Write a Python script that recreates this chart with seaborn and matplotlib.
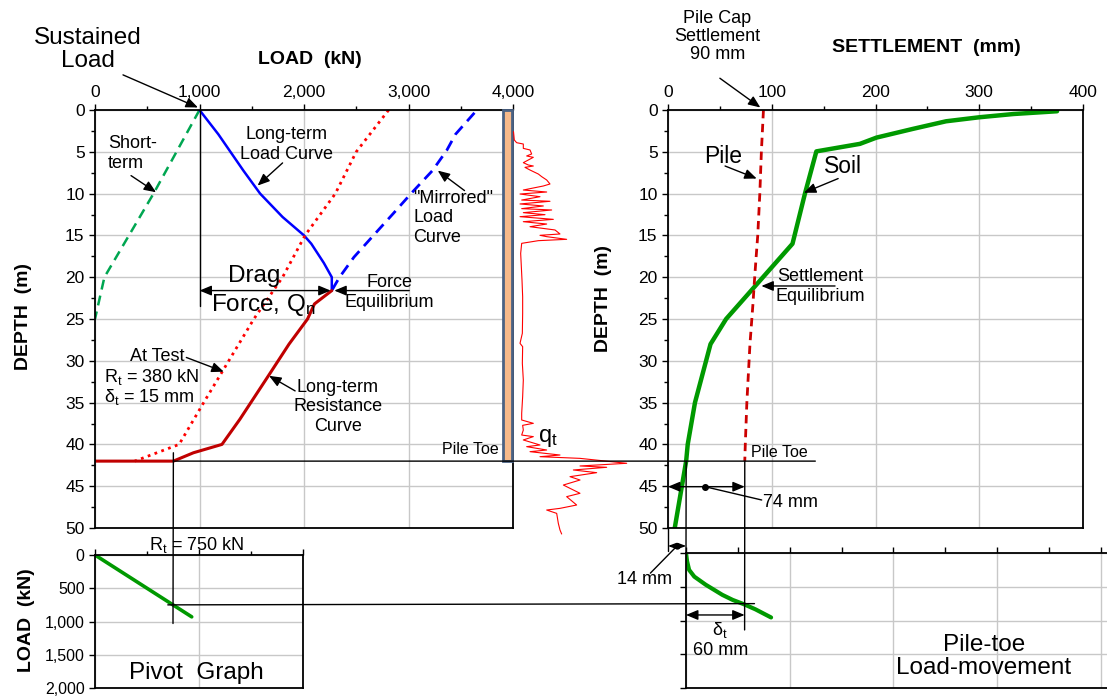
import matplotlib
matplotlib.use("Agg")
import matplotlib.pyplot as plt
from matplotlib.patches import Rectangle, ConnectionPatch
from matplotlib.ticker import MultipleLocator, FuncFormatter, NullFormatter
import seaborn as sns

sns.set_theme(style="white")
plt.rcParams['font.family'] = ['Liberation Sans', 'DejaVu Sans']
plt.rcParams['mathtext.fontset'] = 'custom'
plt.rcParams['mathtext.rm'] = 'Liberation Sans'
plt.rcParams['mathtext.it'] = 'Liberation Sans:italic'
for k in ['text.color', 'axes.labelcolor', 'xtick.color', 'ytick.color']:
    plt.rcParams[k] = 'black'

# ---- data ----
sustained_load = 1000
toe_depth = 42
rt_long = 750

short_load = [1000, 560, 90, 0]
short_depth = [0, 10, 20, 25]

lt_load = [1000, 1180, 1420, 1580, 1795, 2000, 2070, 2190, 2266, 2266]
lt_depth = [0, 2.9, 7.25, 10, 12.8, 15, 16, 18.3, 20, 21.6]

mir_load = [2270, 2340, 2478, 2665, 2853, 3024, 3229, 3365, 3450, 3655]
mir_depth = [21.5, 20, 17.6, 15, 12.4, 10, 7.25, 4.85, 2.9, 0]

test_load = [2810, 2500, 2300, 2010, 1795, 1520, 1280, 1040, 805, 380]
test_depth = [0, 5, 10, 15, 20, 25, 30, 35, 40, 42]

res_load = [2266, 2100, 2034, 1857, 1659, 1386, 1215, 942, 750, 0]
res_depth = [21.6, 23.2, 25, 28, 31.8, 37, 40, 41, 42, 42]

qt_mpa = [0.1, 0.26, 0.72, 2.03, 2.03, 3.35, 3.67, 2.69, 4.0, 2.03, 3.02, 4.0, 2.36,
          3.35, 4.99, 5.64, 6.63, 7.28, 5.97, 2.03, 6.63, 1.38, 5.31, 1.71, 7.28, 1.38,
          5.97, 1.71, 7.61, 2.03, 6.30, 1.38, 7.94, 2.03, 6.63, 3.35, 8.27, 9.25, 5.31,
          6.63, 10.56, 4.99, 1.71, 1.51, 1.64, 1.77, 1.90, 1.90, 1.84, 1.38, 1.90, 1.84,
          2.03, 1.90, 1.71, 1.71, 4.0, 1.90, 2.03, 1.71, 4.0, 2.03, 5.31, 2.69, 6.63,
          3.35, 9.25, 5.31, 13.19, 22.38, 13.19, 18.44, 11.88, 16.47, 11.22, 13.19,
          9.91, 13.19, 10.56, 12.53, 9.25, 6.63, 8.6, 8.92, 9.25, 9.58]
qt_depth = [2.59, 3.59, 3.91, 4.07, 4.59, 4.78, 5.26, 5.50, 5.66, 6.30, 6.58, 6.70, 6.86,
            7.18, 7.66, 7.97, 8.37, 8.85, 9.09, 9.57, 9.81, 10.05, 10.37, 10.77, 10.92, 11.24,
            11.48, 11.80, 11.96, 12.28, 12.52, 12.76, 13.08, 13.36, 13.64, 13.96, 14.35, 14.83, 14.99,
            15.15, 15.47, 15.63, 15.95, 17.15, 18.74, 20.33, 22.33, 24.32, 26.71, 27.91, 28.31, 30.30,
            32.30, 34.29, 36.28, 37.08, 37.48, 37.72, 38.28, 38.88, 39.07, 39.47, 40.07, 40.27, 40.67,
            40.87, 41.27, 41.47, 41.67, 42.26, 42.58, 42.74, 43.06, 43.38, 43.86, 44.26,
            44.86, 45.85, 46.25, 47.25, 47.65, 47.85, 48.25, 49.44, 50.24, 50.72]

pile_set = [92, 90, 88.5, 86.5, 85, 83, 82, 79, 76, 74.5, 74]
pile_depth = [0, 5, 10, 15, 17.5, 21, 23, 28, 35, 40, 42]

soil_set = [375, 333, 300, 268, 236, 201, 185, 143, 132, 120, 88, 56, 41, 26, 19, 17.5, 6.5]
soil_depth = [0.15, 0.48, 0.87, 1.35, 2.26, 3.3, 4.05, 4.95, 10, 16, 20.5, 25, 28, 35, 40, 42, 50]

pile_toe_set = 74
soil_toe_set = 17.5

pivot_load = [0, 250, 500, 750, 930]

toe_move = [0, 1, 3, 8, 19, 35, 45, 56, 67, 82]
toe_load = [0, 120, 250, 350, 470, 620, 695, 760, 835, 955]

# ---- layout ----
W, H = 1107, 698
fig = plt.figure(figsize=(W / 100, H / 100), dpi=100)


def box(l, t, r, b):
    return [l / W, 1 - b / H, (r - l) / W, (b - t) / H]


ax_l = fig.add_axes(box(95, 110, 513, 528))
ax_q = fig.add_axes(box(513, 110, 640, 528))
ax_r = fig.add_axes(box(668, 110, 1083, 528))
ax_p = fig.add_axes(box(95, 555, 303, 688))
ax_t = fig.add_axes(box(686, 553, 1107, 688))

thousands = FuncFormatter(lambda v, p: f"{v:,.0f}")


def frame(ax, size=12.5):
    for s in ax.spines.values():
        s.set_visible(True)
        s.set_color('black')
        s.set_linewidth(1.3)
    ax.grid(True, which='major', color='#C8C8C8', lw=1)
    ax.set_axisbelow(True)
    ax.xaxis.tick_top()
    ax.tick_params(which='both', direction='out', length=4, width=1, labelsize=size,
                   top=True, bottom=False, left=True, right=False, labeltop=True, labelbottom=False)
    ax.tick_params(which='minor', length=3)


def curve(ax, x, y, **kw):
    sns.lineplot(x=x, y=y, sort=False, estimator=None, ax=ax, **kw)


arrow = dict(arrowstyle='-|>,head_length=0.6,head_width=0.25', color='black', lw=1, shrinkA=0, shrinkB=0)
arrow2 = dict(arrowstyle='<|-|>,head_length=0.6,head_width=0.25', color='black', lw=1, shrinkA=0, shrinkB=0)

# ---- LOAD vs DEPTH ----
frame(ax_l)
ax_l.set_xlim(0, 4000)
ax_l.set_ylim(50, 0)
ax_l.xaxis.set_major_locator(MultipleLocator(1000))
ax_l.xaxis.set_minor_locator(MultipleLocator(500))
ax_l.yaxis.set_major_locator(MultipleLocator(5))
ax_l.yaxis.set_minor_locator(MultipleLocator(2.5))
ax_l.xaxis.set_major_formatter(thousands)
ax_l.set_ylabel("DEPTH  (m)", fontsize=14, fontweight='bold')
ax_l.yaxis.set_label_coords(-0.15, 0.505)

curve(ax_l, short_load, short_depth, color='#00A651', lw=1.8, linestyle=(0, (4, 2.5)))
curve(ax_l, lt_load, lt_depth, color='#0000FF', lw=1.8)
curve(ax_l, mir_load, mir_depth, color='#0000FF', lw=2, linestyle=(0, (4, 2.5)))
curve(ax_l, test_load, test_depth, color='#FF0000', lw=2, linestyle=(0, (1, 1.6)))
curve(ax_l, res_load, res_depth, color='#C00000', lw=2.2)
ax_l.plot([sustained_load, sustained_load], [0, 23.4], color='black', lw=1)
ax_l.add_patch(Rectangle((3900, 0), 90, toe_depth, fc='#F6B98A', ec='#4A6284', lw=2,
                         clip_on=False, zorder=4))

ax_l.text(-67, -7.2, "Sustained\nLoad", fontsize=17.5, ha='center', va='center', linespacing=1.05)
ax_l.annotate('', xy=(985, -0.3), xytext=(268, -4.2), arrowprops=arrow, annotation_clip=False)
ax_l.text(2057, -6.1, "LOAD  (kN)", fontsize=14, fontweight='bold', ha='center', va='center')
ax_l.text(123, 5.2, "Short-\nterm", fontsize=13, ha='left', va='center')
ax_l.annotate('', xy=(584, 9.84), xytext=(345, 7.85), arrowprops=arrow)
ax_l.text(1829, 4.1, "Long-term\nLoad Curve", fontsize=13, ha='center', va='center')
ax_l.annotate('', xy=(1556, 9.04), xytext=(1795, 6.33), arrowprops=arrow)
ax_l.text(3048, 12.9, "\"Mirrored\"\nLoad\nCurve", fontsize=13, ha='left', va='center')
ax_l.annotate('', xy=(3280, 7.25), xytext=(3536, 9.64), arrowprops=arrow)
ax_l.text(1522, 19.9, "Drag", fontsize=17.5, ha='center', va='center')
ax_l.text(1608, 23.3, "Force, Q$_\\mathregular{n}$", fontsize=17.5, ha='center', va='center')
ax_l.annotate('', xy=(sustained_load, 21.6), xytext=(2255, 21.6), arrowprops=arrow2)
ax_l.text(2815, 21.8, "Force\nEquilibrium", fontsize=13, ha='center', va='center')
ax_l.annotate('', xy=(2290, 21.6), xytext=(3007, 21.6), arrowprops=arrow)
ax_l.text(600, 29.5, "At Test", fontsize=13, ha='center', va='center')
ax_l.annotate('', xy=(1232, 31.3), xytext=(874, 29.6), arrowprops=arrow)
ax_l.text(89, 31.9, "R$_\\mathregular{t}$ = 380 kN", fontsize=13, ha='left', va='center')
ax_l.text(89, 34.3, "δ$_\\mathregular{t}$ = 15 mm", fontsize=13, ha='left', va='center')
ax_l.text(2324, 35.5, "Long-term\nResistance\nCurve", fontsize=13, ha='center', va='center')
ax_l.annotate('', xy=(1666, 31.8), xytext=(1915, 33.6), arrowprops=arrow)
ax_l.text(3860, 40.6, "Pile Toe", fontsize=11.5, ha='right', va='center')

# ---- cone resistance trace ----
ax_q.set_xlim(0, 25)
ax_q.set_ylim(50, 0)
ax_q.axis('off')
ax_q.plot(qt_mpa, qt_depth, color='#FF0000', lw=0.8, clip_on=False)
ax_q.text(6.9, 39.2, "q$_\\mathregular{t}$", fontsize=17, ha='center', va='center')

# ---- SETTLEMENT vs DEPTH ----
frame(ax_r)
ax_r.set_xlim(0, 400)
ax_r.set_ylim(50, 0)
ax_r.xaxis.set_major_locator(MultipleLocator(100))
ax_r.xaxis.set_minor_locator(MultipleLocator(50))
ax_r.yaxis.set_major_locator(MultipleLocator(5))
ax_r.yaxis.set_minor_locator(MultipleLocator(2.5))
ax_r.set_ylabel("DEPTH  (m)", fontsize=14, fontweight='bold')
ax_r.yaxis.set_label_coords(-0.135, 0.55)

curve(ax_r, soil_set, soil_depth, color='#009900', lw=3.2)
curve(ax_r, pile_set, pile_depth, color='#CC0000', lw=2, linestyle=(0, (3, 2)))

ax_r.text(47.5, -8.8, "Pile Cap\nSettlement\n90 mm", fontsize=13, ha='center', va='center',
          linespacing=1.1)
ax_r.annotate('', xy=(89, -0.3), xytext=(50, -3.8), arrowprops=arrow, annotation_clip=False)
ax_r.text(248.7, -7.45, "SETTLEMENT  (mm)", fontsize=14, fontweight='bold', ha='center', va='center')
ax_r.text(53.3, 5.6, "Pile", fontsize=16.5, ha='center', va='center')
ax_r.annotate('', xy=(85.5, 8.2), xytext=(55, 6.7), arrowprops=arrow)
ax_r.text(169, 6.7, "Soil", fontsize=16.5, ha='center', va='center')
ax_r.annotate('', xy=(131, 9.9), xytext=(164, 8.2), arrowprops=arrow)
ax_r.text(146.5, 21.1, "Settlement\nEquilibrium", fontsize=13, ha='center', va='center')
ax_r.annotate('', xy=(90, 21.05), xytext=(161, 21.05), arrowprops=arrow)
ax_r.text(80, 40.95, "Pile Toe", fontsize=11.5, ha='left', va='center')
ax_r.annotate('', xy=(0, 45.06), xytext=(pile_toe_set, 45.06), arrowprops=arrow2)
ax_r.plot([35.7], [45.06], 'o', color='black', ms=4)
ax_r.plot([35.7, 90.3], [45.06, 46.65], color='black', lw=1)
ax_r.text(91.3, 47.0, "74 mm", fontsize=13, ha='left', va='center')
ax_r.plot([0, 0], [50, 52.8], color='black', lw=1, clip_on=False)
ax_r.annotate('', xy=(0, 52.15), xytext=(soil_toe_set, 52.15), arrowprops=dict(
    arrowstyle='<|-|>,head_length=0.4,head_width=0.15', color='black', lw=1, shrinkA=0, shrinkB=0),
    annotation_clip=False)
ax_r.plot([8.7], [52.15], 'o', color='black', ms=3.5, clip_on=False)
ax_r.plot([8.7, -17], [52.15, 55.4], color='black', lw=1, clip_on=False)
ax_r.text(-23, 56.2, "14 mm", fontsize=13, ha='center', va='center')

# ---- pivot graph ----
frame(ax_p, size=11.5)
ax_p.set_xlim(0, 2000)
ax_p.set_ylim(2000, 0)
ax_p.xaxis.set_major_locator(MultipleLocator(1000))
ax_p.xaxis.set_minor_locator(MultipleLocator(500))
ax_p.xaxis.set_major_formatter(NullFormatter())
ax_p.yaxis.set_major_locator(MultipleLocator(500))
ax_p.yaxis.set_major_formatter(thousands)
ax_p.set_ylabel("LOAD  (kN)", fontsize=14, fontweight='bold')
ax_p.yaxis.set_label_coords(-0.29, 0.51)
curve(ax_p, pivot_load, pivot_load, color='#009900', lw=2.6)
ax_p.text(975, -150, "R$_\\mathregular{t}$ = 750 kN", fontsize=13, ha='center', va='center')
ax_p.text(971, 1774, "Pivot  Graph", fontsize=17.5, ha='center', va='center')

# ---- pile-toe load-movement ----
frame(ax_t)
ax_t.spines['right'].set_visible(False)
ax_t.set_xlim(0, 405.8)
ax_t.set_ylim(2000, 0)
ax_t.xaxis.set_major_locator(MultipleLocator(100))
ax_t.xaxis.set_minor_locator(MultipleLocator(50))
ax_t.xaxis.set_major_formatter(NullFormatter())
ax_t.yaxis.set_major_locator(MultipleLocator(500))
ax_t.yaxis.set_major_formatter(NullFormatter())
ax_t.tick_params(which='minor', length=4)
curve(ax_t, toe_move, toe_load, color='#009900', lw=3)
ax_t.annotate('', xy=(0, 918), xytext=(pile_toe_set - soil_toe_set, 918), arrowprops=arrow2)
ax_t.text(32.6, 1141, "δ$_\\mathregular{t}$", fontsize=13, ha='center', va='center')
ax_t.text(33.3, 1447, "60 mm", fontsize=13, ha='center', va='center')
ax_t.text(287, 1533, "Pile-toe\nLoad-movement", fontsize=17.5, ha='center', va='center',
          linespacing=1.1)

# ---- connecting lines between graphs ----
def link(axA, pA, axB, pB):
    fig.add_artist(ConnectionPatch(xyA=pA, coordsA=axA.transData, xyB=pB, coordsB=axB.transData,
                                   color='black', lw=1))


link(ax_l, (rt_long, toe_depth), ax_r, (142, toe_depth))
link(ax_l, (rt_long, 41), ax_p, (rt_long, 1030))
link(ax_p, (700, rt_long), ax_t, (66, rt_long))
link(ax_r, (pile_toe_set, toe_depth), ax_t, (pile_toe_set - soil_toe_set, 1140))
link(ax_r, (soil_toe_set, toe_depth), ax_t, (0, 0))

fig.savefig("out.png", dpi=100)
